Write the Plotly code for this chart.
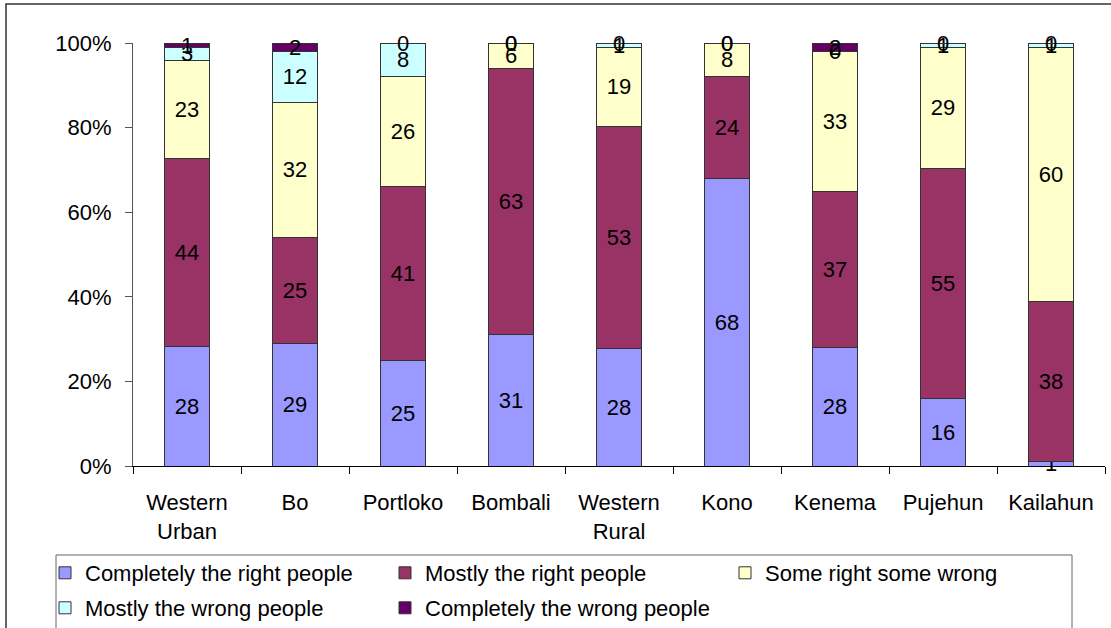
import plotly.graph_objects as go

regions = ["Western<br>Urban", "Bo", "Portloko", "Bombali", "Western<br>Rural",
           "Kono", "Kenema", "Pujehun", "Kailahun"]

completely_right = [28, 29, 25, 31, 28, 68, 28, 16, 1]
mostly_right = [44, 25, 41, 63, 53, 24, 37, 55, 38]
some_right_some_wrong = [23, 32, 26, 6, 19, 8, 33, 29, 60]
mostly_wrong = [3, 12, 8, 0, 1, 0, 0, 1, 1]
completely_wrong = [1, 2, 0, 0, 0, 0, 2, 0, 0]

series = [
    ("Completely the right people", completely_right, "#9999FF", "legend"),
    ("Mostly the right people", mostly_right, "#993366", "legend"),
    ("Some right some wrong", some_right_some_wrong, "#FFFFCC", "legend"),
    ("Mostly the wrong people", mostly_wrong, "#CCFFFF", "legend2"),
    ("Completely the wrong people", completely_wrong, "#660066", "legend2"),
]

FONT = "Liberation Sans, Arial, sans-serif"
FS = 22

W, H = 1111, 628
L, R, T, B = 133, 6, 43, 162
pw = W - L - R
ph = H - T - B


def px_x(x):
    return (x - L) / pw


def px_y(y):
    return (H - B - y) / ph


fig = go.Figure()
for name, vals, color, lg in series:
    fig.add_trace(go.Bar(
        name=name, x=regions, y=vals, legend=lg,
        marker=dict(color=color, line=dict(color="#333333", width=1)),
        text=[str(v) for v in vals], textposition="inside",
        insidetextanchor="middle", textangle=0,
        textfont=dict(family=FONT, size=FS, color="black"),
        constraintext="none", cliponaxis=False,
        hoverinfo="skip",
    ))

# labels for zero-height segments (plotly does not draw text on empty bars)
totals = [sum(s[1][i] for s in series) for i in range(len(regions))]
annotations = []
for i, reg in enumerate(regions):
    cum = 0
    for name, vals, color, lg in series:
        cum += vals[i]
        if vals[i] == 0:
            annotations.append(dict(
                x=reg, y=100 * cum / totals[i], xref="x", yref="y",
                text="0", showarrow=False, yanchor="middle",
                font=dict(family=FONT, size=FS, color="black"),
            ))

legend_common = dict(
    orientation="h", traceorder="normal",
    x=px_x(45), xanchor="left", yanchor="middle",
    entrywidth=295, entrywidthmode="pixels",
    borderwidth=0, bgcolor="rgba(0,0,0,0)",
    font=dict(family=FONT, size=FS, color="black"),
    itemclick=False, itemdoubleclick=False,
)

fig.update_layout(
    width=W, height=H,
    barmode="stack", barnorm="percent", bargap=0.583,
    margin=dict(l=L, r=R, t=T, b=B, autoexpand=False),
    paper_bgcolor="white", plot_bgcolor="white",
    font=dict(family=FONT, size=FS, color="black"),
    uniformtext=dict(mode="show", minsize=FS),
    showlegend=True,
    legend=dict(y=px_y(573), **legend_common),
    legend2=dict(y=px_y(608), **legend_common),
    annotations=annotations,
    xaxis=dict(
        showline=True, linecolor="black", linewidth=1,
        ticks="outside", tickson="boundaries", ticklen=7, tickcolor="black",
        showgrid=False, tickfont=dict(family=FONT, size=FS, color="black"),
        ticklabelstandoff=17,
    ),
    yaxis=dict(
        range=[0, 100], tickvals=[0, 20, 40, 60, 80, 100],
        ticktext=["0%", "20%", "40%", "60%", "80%", "100%"],
        showline=True, linecolor="#555555", linewidth=1,
        ticks="outside", ticklen=7, tickcolor="#555555",
        showgrid=False, zeroline=False,
        tickfont=dict(family=FONT, size=FS, color="black"),
        ticklabelstandoff=9,
    ),
    shapes=[
        dict(type="rect", xref="paper", yref="paper",
             x0=px_x(6), x1=px_x(1125), y0=px_y(660), y1=px_y(4),
             line=dict(color="#333333", width=1.5),
             fillcolor="rgba(0,0,0,0)", layer="below"),
        dict(type="rect", xref="paper", yref="paper",
             x0=px_x(56), x1=px_x(1072), y0=px_y(660), y1=px_y(555),
             line=dict(color="#666666", width=1),
             fillcolor="rgba(0,0,0,0)", layer="above"),
    ],
)

fig.write_html(
    "out.html",
    config={"displayModeBar": False},
    post_script="document.body.style.margin='0';document.body.style.overflow='hidden';",
)
